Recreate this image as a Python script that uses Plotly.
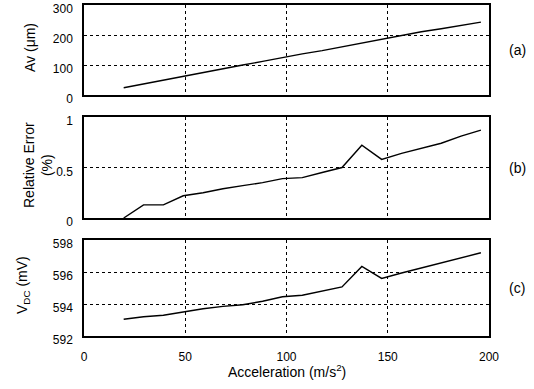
import plotly.graph_objects as go

# Acceleration values (m/s^2): multiples of g (2g .. 20g)
accel = [19.6, 29.4, 39.2, 49.0, 58.8, 68.6, 78.4, 88.2, 98.0, 107.8,
         117.6, 127.4, 137.2, 147.0, 156.8, 166.6, 176.4, 186.2, 196.0]
av_um = [24, 37, 50, 62, 74, 87, 100, 112, 125, 137,
         148, 161, 174, 187, 200, 211, 221, 232, 243]
rel_err = [0.0, 0.13, 0.13, 0.22, 0.25, 0.29, 0.32, 0.35, 0.39, 0.40,
           0.45, 0.50, 0.72, 0.58, 0.64, 0.69, 0.74, 0.81, 0.87]
vdc_mv = [593.05, 593.2, 593.3, 593.5, 593.7, 593.85, 593.95, 594.17, 594.45, 594.55,
          594.8, 595.07, 596.35, 595.6, 595.94, 596.25, 596.55, 596.85, 597.2]

x_ticks = [0, 50, 100, 150, 200]
panel_labels = ["(a)", "(b)", "(c)"]

W, H = 534, 389
font = dict(family="Liberation Sans, Arial, sans-serif", size=12, color="black")
tfont = dict(family="Liberation Sans, Arial, sans-serif", size=14, color="black")

fig = go.Figure()
series = [av_um, rel_err, vdc_mv]
for i, ys in enumerate(series):
    fig.add_trace(go.Scatter(x=accel, y=ys, mode="lines",
                             line=dict(color="black", width=1.4),
                             xaxis="x" if i == 0 else f"x{i+1}",
                             yaxis="y" if i == 0 else f"y{i+1}",
                             showlegend=False, hoverinfo="skip"))

xdom = [84 / W, 489 / W]
# pixel top/bottom of each panel
panels_px = [(5, 95), (117, 218), (240, 336)]
ydoms = [[1 - b / H, 1 - t / H] for t, b in panels_px]

yranges = [[0, 300], [0, 1], [592, 598]]
yticks = [[0, 100, 200, 300], [0, 0.5, 1], [592, 594, 596, 598]]
yticktext = [["0", "100", "200", "300"], ["0", "0.5", "1"], ["592", "594", "596", "598"]]

common_axis = dict(showline=True, mirror=True, linecolor="black", linewidth=1.5,
                   gridcolor="black", griddash="dot", gridwidth=1,
                   zeroline=False, ticks="", tickfont=font, automargin=False,
                   ticklabeloverflow="allow")

layout = dict(width=W, height=H, margin=dict(l=0, r=0, t=0, b=0, pad=0, autoexpand=False),
              paper_bgcolor="white", plot_bgcolor="white", font=font)

for i in range(3):
    xn = "xaxis" if i == 0 else f"xaxis{i+1}"
    yn = "yaxis" if i == 0 else f"yaxis{i+1}"
    ya = "y" if i == 0 else f"y{i+1}"
    xa = "x" if i == 0 else f"x{i+1}"
    layout[xn] = dict(common_axis, domain=xdom, range=[0, 200], anchor=ya,
                      tickvals=x_ticks, showticklabels=(i == 2),
                      ticklabelstandoff=9)
    layout[yn] = dict(common_axis, domain=ydoms[i], range=yranges[i], anchor=xa,
                      tickvals=yticks[i], ticktext=yticktext[i],
                      ticklabelstandoff=7, ticklabelshift=4)

fig.update_layout(**layout)

annotations = []
for i, lab in enumerate(panel_labels):
    t, b = panels_px[i]
    annotations.append(dict(text=lab, x=517 / W, y=1 - ((t + b) / 2) / H,
                            xref="paper", yref="paper", showarrow=False,
                            xanchor="center", yanchor="middle", font=tfont))
# y titles
annotations.append(dict(text="Av (μm)", x=30 / W, y=1 - 48 / H, xref="paper", yref="paper",
                        showarrow=False, textangle=-90, xanchor="center", yanchor="middle", font=tfont))
annotations.append(dict(text="Relative Error<br>(%)", x=38 / W, y=1 - 165 / H, xref="paper", yref="paper",
                        showarrow=False, textangle=-90, xanchor="center", yanchor="middle", font=tfont))
annotations.append(dict(text="V<sub>DC</sub> (mV)", x=23 / W, y=1 - 285 / H, xref="paper", yref="paper",
                        showarrow=False, textangle=-90, xanchor="center", yanchor="middle", font=tfont))
annotations.append(dict(text="Acceleration (m/s<sup>2</sup>)", x=(84 + 489) / 2 / W, y=1 - 371 / H,
                        xref="paper", yref="paper", showarrow=False,
                        xanchor="center", yanchor="middle", font=tfont))
fig.update_layout(annotations=annotations)

fig.write_html("out.html", config={"displayModeBar": False},
               post_script="document.body.style.margin='0';document.body.style.overflow='hidden';")
